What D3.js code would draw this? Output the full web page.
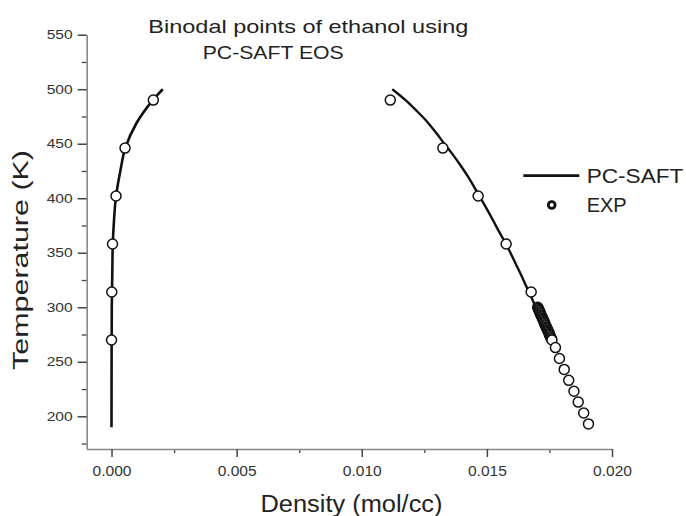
<!DOCTYPE html>
<html><head><meta charset="utf-8">
<script src="https://cdn.jsdelivr.net/npm/d3@7"></script>
<style>body{margin:0;background:#fff} svg{display:block;font-family:"Liberation Sans",Arial,sans-serif}</style>
</head><body><svg id="c" width="686" height="516"></svg>
<script>
// ---- data ----
const vaporCurveT   = [190, 250, 300, 330, 358, 380, 402, 426, 446, 469, 490, 500];
const vaporCurveRho = [0, 0.000003, 0.00001, 0.00003, 0.00005, 0.0001, 0.00018, 0.00036, 0.00055, 0.001, 0.00165, 0.00205];
const liquidCurveT   = [500, 490, 480, 470, 460, 450, 440, 430, 420, 410, 400, 390, 380, 370, 360, 350, 340, 330, 320, 310, 300, 290, 280];
const liquidCurveRho = [0.01122, 0.01175, 0.0122, 0.01262, 0.01297, 0.0133, 0.01364, 0.01395, 0.01424, 0.0145, 0.01475, 0.015, 0.01524, 0.01547, 0.01572, 0.01594, 0.01615, 0.01636, 0.01656, 0.01676, 0.01695, 0.01713, 0.0173];
const vaporExpT   = [490, 446, 402, 358, 314, 270];
const vaporExpRho = [0.00167, 0.00054, 0.00018, 0.00004, 0.00001, 0.0];
const liquidExpT   = [490, 446, 402, 358, 314, 300, 299, 298, 297, 296, 295, 294, 293, 292, 291, 290, 289, 288, 287, 286, 285, 284, 283, 282, 281, 280, 279, 278, 277, 276, 275, 274, 273, 272, 271, 270, 263, 253, 243, 233, 223, 213, 203, 193];
const liquidExpRho = [0.01114, 0.01324, 0.01465, 0.01577, 0.01677, 0.01703, 0.01705, 0.01707, 0.01709, 0.01711, 0.01713, 0.01714, 0.01716, 0.01718, 0.0172, 0.01722, 0.01724, 0.01726, 0.01728, 0.0173, 0.01731, 0.01733, 0.01735, 0.01737, 0.01739, 0.01741, 0.01743, 0.01745, 0.01747, 0.01749, 0.0175, 0.01752, 0.01754, 0.01756, 0.01758, 0.0176, 0.01774, 0.0179, 0.01809, 0.01827, 0.01848, 0.01865, 0.01887, 0.01906];
const xTickValues = [0, 0.005, 0.010, 0.015, 0.020];
const xMinorTicks = [0.0025, 0.0075, 0.0125, 0.0175];
const yTickValues = [200, 250, 300, 350, 400, 450, 500, 550];
const yMinorTicks = [175, 225, 275, 325, 375, 425, 475, 525];
const titleLines = ["Binodal points of ethanol using", "PC-SAFT EOS"];
const legendLabels = ["PC-SAFT", "EXP"];
const xTitle = "Density (mol/cc)";
const yTitle = "Temperature (K)";

// ---- chart ----
const svg = d3.select("#c");
const x = d3.scaleLinear().domain([-0.001, 0.020]).range([86.5, 612]);
const y = d3.scaleLinear().domain([170, 550]).range([449, 34.7]);
const axisCol = "#888", tickCol = "#444", labCol = "#333";

const zip = (a, b) => a.map((t, i) => ({T: t, rho: b[i]}));

// minor ticks
svg.append("g").attr("transform", "translate(0,449)")
  .call(d3.axisBottom(x).tickValues(xMinorTicks).tickSize(4).tickSizeOuter(0).tickFormat(""))
  .call(g => { g.select(".domain").remove(); g.selectAll("line").attr("stroke", tickCol).attr("stroke-width", 1.3); });
svg.append("g").attr("transform", "translate(86.7,0)")
  .call(d3.axisLeft(y).tickValues(yMinorTicks).tickSize(5).tickSizeOuter(0).tickFormat(""))
  .call(g => { g.select(".domain").remove(); g.selectAll("line").attr("stroke", tickCol).attr("stroke-width", 1.3); });

// major axes
const gx = svg.append("g").attr("transform", "translate(0,449)")
  .call(d3.axisBottom(x).tickValues(xTickValues).tickSize(8).tickSizeOuter(0).tickPadding(8).tickFormat(d3.format(".3f")));
gx.select(".domain").attr("stroke", axisCol).attr("stroke-width", 1.6);
gx.selectAll(".tick line").attr("stroke", tickCol).attr("stroke-width", 1.5);
gx.selectAll("text").attr("fill", labCol).attr("font-size", 15.5).attr("font-family", "Liberation Sans, Arial, sans-serif")
  .attr("textLength", 39).attr("lengthAdjust", "spacingAndGlyphs");

const gy = svg.append("g").attr("transform", "translate(86.7,0)")
  .call(d3.axisLeft(y).tickValues(yTickValues).tickSize(9).tickSizeOuter(0).tickPadding(5));
gy.select(".domain").attr("stroke", axisCol).attr("stroke-width", 1.6);
gy.selectAll(".tick line").attr("stroke", tickCol).attr("stroke-width", 1.5);
gy.selectAll("text").attr("fill", labCol).attr("font-size", 12.5).attr("font-family", "Liberation Sans, Arial, sans-serif")
  .attr("textLength", 26).attr("lengthAdjust", "spacingAndGlyphs");

// curves
const line = d3.line().x(d => x(d.rho)).y(d => y(d.T)).curve(d3.curveCatmullRom.alpha(0.5));
svg.append("path").datum(zip(vaporCurveT, vaporCurveRho)).attr("d", line)
  .attr("fill", "none").attr("stroke", "#111").attr("stroke-width", 2.6).attr("stroke-linecap", "butt");
svg.append("path").datum(zip(liquidCurveT, liquidCurveRho)).attr("d", line)
  .attr("fill", "none").attr("stroke", "#111").attr("stroke-width", 2.4);

// experimental points
const pts = zip(vaporExpT, vaporExpRho).concat(zip(liquidExpT, liquidExpRho));
svg.append("g").selectAll("circle").data(pts).join("circle")
  .attr("cx", d => x(d.rho)).attr("cy", d => y(d.T)).attr("r", 5)
  .attr("fill", "#fff").attr("stroke", "#111").attr("stroke-width", 1.5);

// title
svg.append("text").attr("x", 148.3).attr("y", 33.3).attr("font-size", 17.7).attr("fill", "#222")
  .attr("textLength", 320).attr("lengthAdjust", "spacingAndGlyphs").text(titleLines[0]);
svg.append("text").attr("x", 202.7).attr("y", 59.3).attr("font-size", 17.7).attr("fill", "#222")
  .attr("textLength", 141).attr("lengthAdjust", "spacingAndGlyphs").text(titleLines[1]);

// axis titles
svg.append("text").attr("x", 260.5).attr("y", 511.5).attr("font-size", 23).attr("fill", "#222")
  .attr("textLength", 182).attr("lengthAdjust", "spacingAndGlyphs").text(xTitle);
svg.append("text").attr("transform", "translate(28.4,370) rotate(-90)").attr("font-size", 22).attr("fill", "#222")
  .attr("textLength", 220).attr("lengthAdjust", "spacingAndGlyphs").text(yTitle);

// legend
svg.append("line").attr("x1", 523.3).attr("x2", 579.3).attr("y1", 175.7).attr("y2", 175.7)
  .attr("stroke", "#111").attr("stroke-width", 2.8);
svg.append("circle").attr("cx", 551.7).attr("cy", 205).attr("r", 3.4)
  .attr("fill", "#fff").attr("stroke", "#111").attr("stroke-width", 2.8);
svg.append("text").attr("x", 586.7).attr("y", 183.3).attr("font-size", 21).attr("fill", "#222")
  .attr("textLength", 96.7).attr("lengthAdjust", "spacingAndGlyphs").text(legendLabels[0]);
svg.append("text").attr("x", 586.7).attr("y", 211.7).attr("font-size", 21).attr("fill", "#222")
  .attr("textLength", 40).attr("lengthAdjust", "spacingAndGlyphs").text(legendLabels[1]);
</script></body></html>
